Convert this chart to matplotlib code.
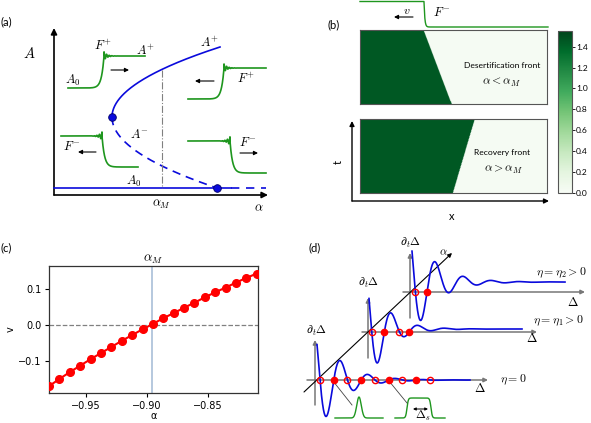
import numpy as np
import matplotlib.pyplot as plt
from matplotlib.colors import Normalize

plt.rcParams['mathtext.fontset'] = 'cm'
plt.rcParams['font.family'] = ['DejaVu Sans']

W, H = 591, 423
GREEN = "#1e961e"
BLUE = "#0a0adc"

# ---------------- (c) front velocity ----------------
alpha_c = [-0.980, -0.9715, -0.963, -0.9545, -0.946, -0.9375, -0.929, -0.9205,
           -0.912, -0.9035, -0.895, -0.8865, -0.878, -0.8695, -0.861, -0.8525,
           -0.844, -0.8355, -0.827, -0.8185, -0.810]
v_c = [-0.170, -0.150, -0.131, -0.113, -0.095, -0.078, -0.061, -0.044, -0.028,
       -0.012, 0.003, 0.019, 0.033, 0.048, 0.062, 0.077, 0.091, 0.104, 0.118,
       0.131, 0.143]
alpha_M = -0.896
c_xticks = [-0.95, -0.90, -0.85]
c_yticks = [-0.1, 0.0, 0.1]

# ---------------- (b) space-time plots ----------------
# front position (fraction of x) at t=0 and at t=end
desert_front = [0.49, 0.34]
recovery_front = [0.497, 0.615]
veg_value, bare_value = 1.45, 0.02
cbar_ticks = [0.0, 0.2, 0.4, 0.6, 0.8, 1.0, 1.2, 1.4]

# ---------------- (a) bifurcation sketch (pixel units) ----------------
fold_pt = (112, 117)
upper_end = (220, 47)
lower_end = (217, 188)
a0_level = 188
alphaM_x = 162
# x0, x1, front pos, low level, high level, rising (F+) or not (F-)
fronts_a = [(68, 145, 104, 88, 56, True),
            (188, 266, 224, 99, 68, True),
            (61, 138, 102, 167, 136, False),
            (188, 266, 230, 173, 141, False)]
arrows_a = [(111, 70, 129, 70), (214, 81, 195, 81),
            (96, 152, 78, 152), (240, 153, 258, 153)]
labels_a = [(29, 54, '$A$', 10.5), (103, 46, '$F^{+}$', 9), (146, 51, '$A^{+}$', 9),
            (73, 80, '$A_0$', 9), (210, 43, '$A^{+}$', 9), (246, 79, '$F^{+}$', 9),
            (139, 134, '$A^{-}$', 9), (72, 147, '$F^{-}$', 9), (248, 143, '$F^{-}$', 9),
            (134, 181, '$A_0$', 9), (162, 204, r'$\alpha_M$', 9), (259, 208, r'$\alpha$', 9)]

# ---------------- (d) zero-crossing sketch (pixel units) ----------------
lvl_axis_y = [380, 332, 292]
lvl_axis_x = [(307, 488), (362, 537), (403, 585)]
lvl_vaxis = [(315, 405, 340), (368, 358, 298), (410, 318, 253)]
lvl_start = [317, 369, 412]
lvl_zero = [320, 371.5, 414.5]
lvl_period = [27.5, 26.7, 28.0]
lvl_decay = [22, 18, 22]
lvl_amp = [56, 55, 58]
lvl_offset = [0, 3, 10]
lvl_end = [470, 522, 565]
lvl_ndots = [9, 4, 2]
lvl_names = [r'$\eta=0$', r'$\eta=\eta_1>0$', r'$\eta=\eta_2>0$']
lvl_name_xy = [(513, 380), (558, 321), (561, 273)]
lvl_delta_xy = [(480, 389), (532, 339), (573, 302)]
lvl_dt_xy = [(317, 331), (369, 283), (411, 243)]


def box(x0, y0, x1, y1):
    return [x0 / W, 1 - y1 / H, (x1 - x0) / W, (y1 - y0) / H]


fig = plt.figure(figsize=(W / 100, H / 100), dpi=100)

# ---- (c)
axc = fig.add_axes(box(49, 266, 258, 393))
axc.axvline(alpha_M, color='#a9bfd8', lw=1.2, zorder=1)
axc.axhline(0, color='gray', ls='--', lw=0.9, zorder=1)
axc.plot(alpha_c, v_c, 'o-', color='red', ms=5.5, lw=1.5, zorder=3)
axc.set_xlim(-0.98, -0.809)
axc.set_ylim(-0.189, 0.164)
axc.set_xticks(c_xticks)
axc.set_yticks(c_yticks)
axc.tick_params(labelsize=7, length=3, width=0.8, pad=2.5)
for s in axc.spines.values():
    s.set_color('#333333')
    s.set_linewidth(0.9)
axc.set_xlabel('α', fontsize=7, labelpad=0.5)
axc.set_ylabel('v', fontsize=7, labelpad=2)
axc.set_title(r'$\alpha_M$', fontsize=9.5, pad=3)

# ---- (b)
norm = Normalize(0, 1.55)
xg = np.linspace(0, 1, 400)
tg = np.linspace(0, 1, 120)
im = None
for rect, fr in [(box(360, 30, 547, 104), desert_front),
                 (box(360, 119, 547, 193), recovery_front)]:
    ax = fig.add_axes(rect)
    xf = fr[0] + (fr[1] - fr[0]) * tg
    img = np.where(xg[None, :] < xf[:, None], veg_value, bare_value)
    im = ax.imshow(img, origin='lower', extent=[0, 1, 0, 1], aspect='auto',
                   cmap='Greens', norm=norm)
    ax.set_xticks([])
    ax.set_yticks([])
    for s in ax.spines.values():
        s.set_color('#555555')
        s.set_linewidth(0.8)
cax = fig.add_axes(box(558, 31, 572, 193))
cb = fig.colorbar(im, cax=cax, ticks=cbar_ticks)
cb.ax.tick_params(labelsize=6, length=2, width=0.6, pad=1)
for t in cb.ax.get_yticklabels():
    t.set_family('Lato')
cb.outline.set_edgecolor('#555555')
cb.outline.set_linewidth(0.8)

# ---- schematic overlay
sk = fig.add_axes([0, 0, 1, 1], zorder=5)
sk.set_xlim(0, W)
sk.set_ylim(H, 0)
sk.axis('off')
sk.patch.set_alpha(0)


def arrow(x0, y0, x1, y1, lw=1.0, ms=8, color='k', z=2):
    sk.annotate('', xy=(x1, y1), xytext=(x0, y0), zorder=z,
                arrowprops=dict(arrowstyle='-|>', lw=lw, color=color,
                                mutation_scale=ms, shrinkA=0, shrinkB=0))


def front(x0, x1, xf, y_low, y_high, rising, w=2.5, spike=0.13):
    x = np.linspace(x0, x1, 1500)
    u = (x - xf) if rising else (xf - x)
    step = np.where(u < 0, np.exp(np.minimum(u, 0) / w), 1.0)
    up = np.maximum(u, 0)
    wig = np.where(u >= 0, spike * np.exp(-up / 3.0) * np.cos(2 * np.pi * up / 2.6), 0.0)
    return x, y_low + (y_high - y_low) * (step + wig)


# (a)
arrow(54, 195, 54, 28, lw=1.2, ms=9)
arrow(54, 195, 268, 195, lw=1.2, ms=9)
t = np.linspace(0, 1, 200)
sk.plot(fold_pt[0] + (upper_end[0] - fold_pt[0]) * t ** 2,
        fold_pt[1] + (upper_end[1] - fold_pt[1]) * t, color=BLUE, lw=1.2)
sk.plot(fold_pt[0] + (lower_end[0] - fold_pt[0]) * t ** 2,
        fold_pt[1] + (lower_end[1] - fold_pt[1]) * t, color=BLUE, lw=1.2,
        dashes=(5, 3.5))
sk.plot([54, 231], [a0_level, a0_level], color=BLUE, lw=1.2)
sk.plot([231, 266], [a0_level, a0_level], color=BLUE, lw=1.2, dashes=(5, 4))
sk.plot([alphaM_x, alphaM_x], [70, a0_level], color='gray', lw=0.8, ls='-.')
sk.plot([fold_pt[0], lower_end[0]], [fold_pt[1], lower_end[1]], 'o', color=BLUE,
        ms=5.5, mec='#000066', mew=0.6, zorder=4)
for fa in fronts_a:
    xs, ys = front(*fa)
    sk.plot(xs, ys, color=GREEN, lw=1.2)
for ar in arrows_a:
    arrow(*ar, lw=0.8, ms=6)
for x, y, s, fs in labels_a:
    sk.text(x, y, s, fontsize=fs, ha='center', va='center')

# (b) extras
xs, ys = front(360, 548, 424, 27, 1.5, False, w=0.8, spike=0.0)
sk.plot(xs, ys, color=GREEN, lw=1.0)
arrow(413, 17, 394, 17, lw=0.8, ms=6)
sk.text(407, 11, '$v$', fontsize=8.5, ha='center', va='center')
sk.text(442, 13, '$F^{-}$', fontsize=9, ha='center', va='center')
sk.text(502, 66, 'Desertification front', fontsize=6.1, family='Lato',
        ha='center', va='center')
sk.text(502, 82, r'$\alpha<\alpha_M$', fontsize=8.5, ha='center', va='center')
sk.text(502, 152, 'Recovery front', fontsize=6.1, family='Lato',
        ha='center', va='center')
sk.text(504, 170, r'$\alpha>\alpha_M$', fontsize=8.5, ha='center', va='center')
arrow(352, 201, 352, 121, lw=1.0, ms=7)
arrow(352, 201, 549, 201, lw=1.0, ms=7)
sk.text(338, 162, 't', fontsize=8, family='Lato', rotation=90, ha='center', va='center')
sk.text(452, 216, 'x', fontsize=8, family='Lato', ha='center', va='center')

# (d)
arrow(304, 392, 452, 253, lw=0.8, ms=6, z=2)
sk.text(443, 252, r'$\alpha$', fontsize=8, ha='center', va='center')
for i in range(3):
    ya = lvl_axis_y[i]
    arrow(lvl_axis_x[i][0], ya, lvl_axis_x[i][1], ya, lw=1.1, ms=6, color='#777777', z=1)
    vx, vy0, vy1 = lvl_vaxis[i]
    arrow(vx, vy0, vx, vy1, lw=1.1, ms=6, color='#777777', z=1)
    x = np.linspace(lvl_start[i], lvl_end[i], 1500)
    osc = -lvl_amp[i] * np.exp(-(x - lvl_start[i]) / lvl_decay[i]) * \
        np.sin(2 * np.pi * (x - lvl_zero[i]) / lvl_period[i])
    disp = osc + lvl_offset[i]
    sk.plot(x, ya - disp, color=BLUE, lw=1.2, zorder=3)
    idx = np.where(np.sign(disp[:-1]) != np.sign(disp[1:]))[0][:lvl_ndots[i]]
    for j in idx:
        xz = x[j]
        if disp[j] > 0:
            sk.plot(xz, ya, 'o', ms=4.5, mec='red', mfc='none', mew=1.0, zorder=4)
        else:
            sk.plot(xz, ya, 'o', ms=4.5, color='red', zorder=4)
    sk.text(*lvl_name_xy[i], lvl_names[i], fontsize=8.5, ha='center', va='center')
    sk.text(*lvl_delta_xy[i], r'$\Delta$', fontsize=9, ha='center', va='center')
    sk.text(*lvl_dt_xy[i], r'$\partial_t\Delta$', fontsize=8.5, ha='center', va='center')

# green localized states
xp = np.linspace(335, 383, 300)
sk.plot(xp, 418 - 21 * np.exp(-((xp - 359) / 3.2) ** 2), color=GREEN, lw=1.0)
xp = np.linspace(395, 445, 300)
plateau = 0.5 * (np.tanh((xp - 407) / 1.3) - np.tanh((xp - 431) / 1.3))
sk.plot(xp, 418 - 20 * plateau, color=GREEN, lw=1.0)
sk.plot([333, 352], [381, 405], color='#444444', lw=0.6)
sk.plot([389, 407], [381, 403], color='#444444', lw=0.6)
sk.annotate('', xy=(428, 409), xytext=(413, 409),
            arrowprops=dict(arrowstyle='<|-|>', lw=0.7, color='k',
                            mutation_scale=4, shrinkA=0, shrinkB=0))
sk.text(423, 416, r'$\Delta_s$', fontsize=8.5, ha='center', va='center')

# panel letters
for x, y, s in [(6, 22, '(a)'), (334, 25, '(b)'), (6, 248, '(c)'), (315, 248, '(d)')]:
    sk.text(x, y, s, fontsize=8, family='Lato', ha='center', va='center')

fig.savefig('out.png', dpi=100)
